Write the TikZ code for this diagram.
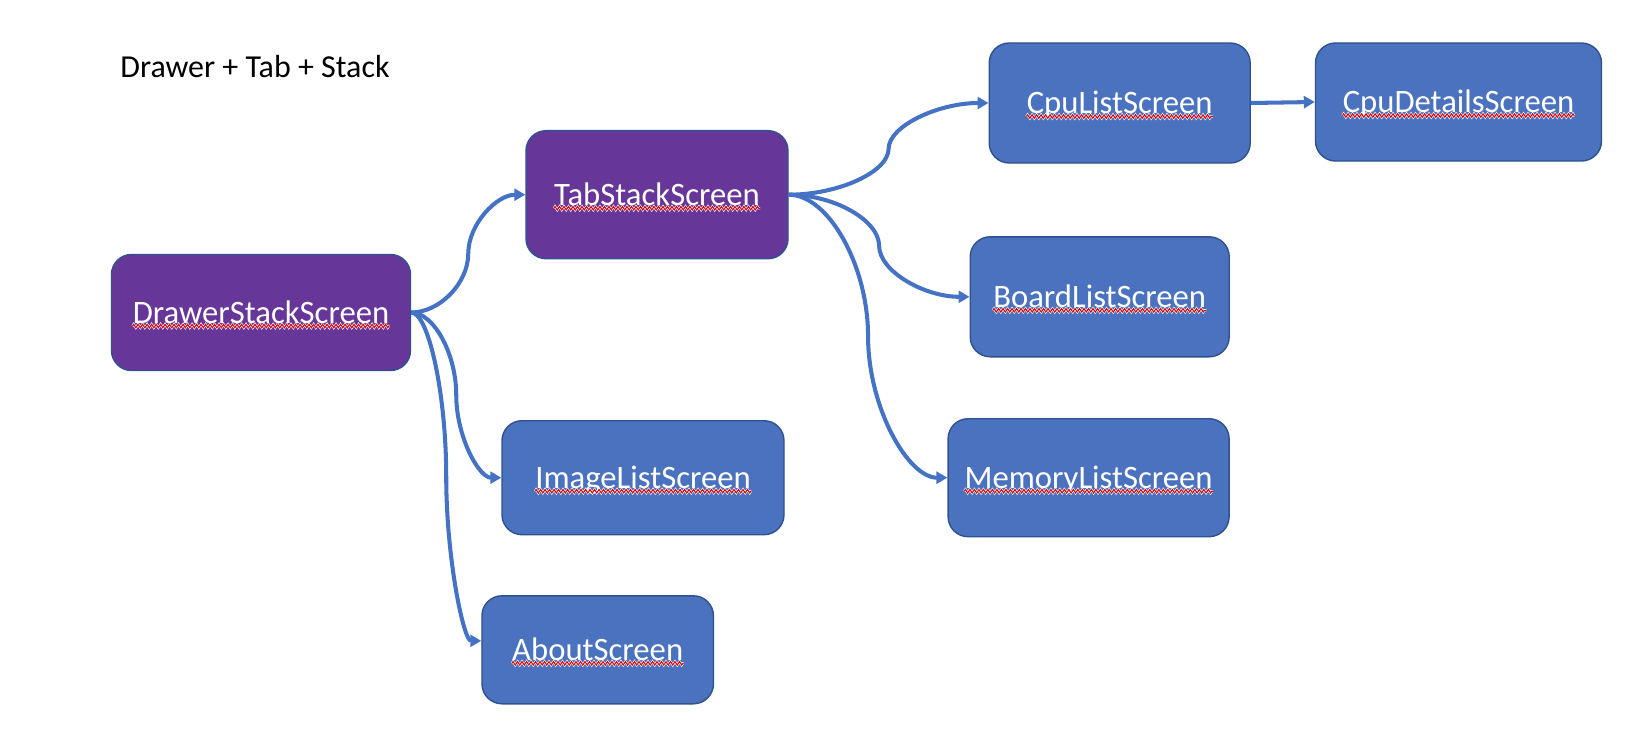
\documentclass[tikz,border=0pt]{standalone}
\usepackage{fontspec}
\setmainfont{Carlito}
\usetikzlibrary{calc,arrows.meta,decorations.pathmorphing}
\definecolor{pptblue}{HTML}{4A72BF}
\definecolor{pptpurple}{HTML}{673699}
\definecolor{pptborder}{HTML}{2F528F}
\definecolor{pptline}{HTML}{4472C4}
\tikzset{
  scrbox/.style={rectangle, rounded corners=0.4cm, draw=pptborder, line width=0.8pt, inner sep=0pt},
  scrtext/.style={inner sep=0pt, text=white, font=\fontsize{18.6}{22}\selectfont, text height=11.98pt, text depth=0pt},
  squigwhite/.style={white, line width=1.3pt, decorate, decoration={zigzag, segment length=0.09cm, amplitude=0.035cm}},
  squigred/.style={red!85!black, line width=0.6pt, decorate, decoration={zigzag, segment length=0.09cm, amplitude=0.035cm}},
  conn/.style={draw=pptline, line width=2.3pt, -{Triangle[length=0.22cm,width=0.24cm]}},
  titletext/.style={inner sep=0pt, anchor=base west, font=\fontsize{18.2}{21}\selectfont}
}
\newcommand{\screenbox}[7]{%
  \node[scrbox, fill=#7, minimum width=#4*0.02cm, minimum height=#5*0.02cm] (#1) at (#2,#3) {};
  \node[scrtext] (#1-t) at (#1.center) {#6};
  \draw[squigwhite] ([yshift=-0.06cm]#1-t.base west) -- ([yshift=-0.06cm]#1-t.base east);
  \draw[squigred] ([yshift=-0.06cm]#1-t.base west) -- ([yshift=-0.06cm]#1-t.base east);
}
\newcommand{\curveconn}[2]{%
  \draw[conn] let \p1=(#1), \p2=(#2) in
    (\p1) .. controls ({\x1+0.25*(\x2-\x1)},\y1) and ({0.5*(\x1+\x2)},{\y1+0.25*(\y2-\y1)}) ..
    ({0.5*(\x1+\x2)},{0.5*(\y1+\y2)}) .. controls ({0.5*(\x1+\x2)},{\y1+0.75*(\y2-\y1)}) and ({\x1+0.75*(\x2-\x1)},\y2) .. (\p2);
}
\begin{document}
\begin{tikzpicture}[x=0.02cm, y=-0.02cm]
  \useasboundingbox (0,0) rectangle (1650,750);
  \node[titletext] (title) at (120,77.7) {Drawer + Tab + Stack};
  \screenbox{Drawer}{261}{312.5}{299}{116}{DrawerStackScreen}{pptpurple}
  \screenbox{Tab}{657}{194.7}{262}{128}{TabStackScreen}{pptpurple}
  \screenbox{CpuList}{1119.7}{103}{261}{120}{CpuListScreen}{pptblue}
  \screenbox{CpuDetails}{1458.5}{102}{286}{118}{CpuDetailsScreen}{pptblue}
  \screenbox{Board}{1099.7}{296.8}{259}{120}{BoardListScreen}{pptblue}
  \screenbox{Memory}{1088.6}{477.7}{281}{118}{MemoryListScreen}{pptblue}
  \screenbox{Image}{643}{477.7}{282}{114}{ImageListScreen}{pptblue}
  \screenbox{About}{597.7}{649.8}{231.5}{108}{AboutScreen}{pptblue}
  \curveconn{Drawer.east}{Tab.west}
  \curveconn{Drawer.east}{Image.west}
  \curveconn{Drawer.east}{$(About.west)+(0,-9)$}
  \curveconn{Tab.east}{CpuList.west}
  \curveconn{Tab.east}{Board.west}
  \curveconn{Tab.east}{Memory.west}
  \draw[conn] (CpuList.east) -- (CpuDetails.west);
\end{tikzpicture}
\end{document}
